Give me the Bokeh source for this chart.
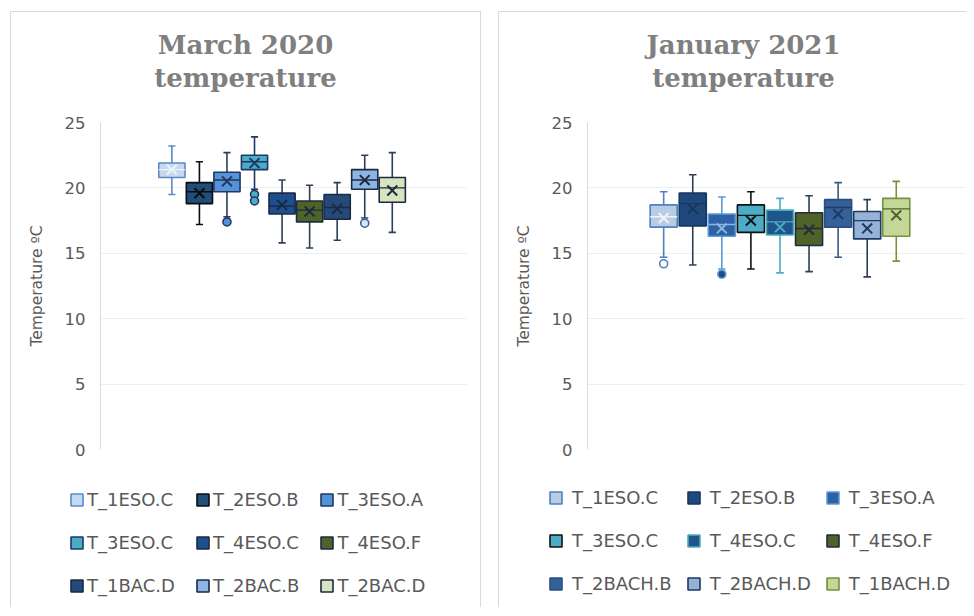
from bokeh.plotting import figure
from bokeh.models import (ColumnDataSource, FixedTicker, Legend, LegendItem,
                          Label, Range1d)
from bokeh.layouts import row, column
from bokeh.embed import file_html
from bokeh.resources import INLINE

# ---------------- data: March 2020 ----------------
m_title = ["March 2020", "temperature"]
m_names = ["T_1ESO.C", "T_2ESO.B", "T_3ESO.A", "T_3ESO.C", "T_4ESO.C",
           "T_4ESO.F", "T_1BAC.D", "T_2BAC.B", "T_2BAC.D"]
m_wlo = [19.5, 17.2, 17.8, 19.9, 15.8, 15.4, 16.0, 17.7, 16.6]
m_q1 = [20.8, 18.8, 19.7, 21.4, 18.0, 17.4, 17.6, 19.9, 18.9]
m_med = [21.4, 19.7, 20.6, 22.0, 18.6, 18.3, 18.5, 20.6, 20.0]
m_q3 = [21.9, 20.4, 21.2, 22.5, 19.6, 19.0, 19.5, 21.4, 20.8]
m_whi = [23.2, 22.0, 22.7, 23.9, 20.6, 20.2, 20.4, 22.5, 22.7]
m_mean = [21.4, 19.6, 20.5, 21.9, 18.7, 18.2, 18.4, 20.6, 19.8]
m_outliers = {"T_3ESO.A": [17.4], "T_3ESO.C": [19.5, 19.0], "T_2BAC.B": [17.3]}

# ---------------- data: January 2021 ----------------
j_title = ["January 2021", "temperature"]
j_names = ["T_1ESO.C", "T_2ESO.B", "T_3ESO.A", "T_3ESO.C", "T_4ESO.C",
           "T_4ESO.F", "T_2BACH.B", "T_2BACH.D", "T_1BACH.D"]
j_wlo = [14.7, 14.1, 13.8, 13.8, 13.5, 13.6, 14.7, 13.2, 14.4]
j_q1 = [17.0, 17.1, 16.3, 16.6, 16.4, 15.6, 17.0, 16.1, 16.3]
j_med = [17.8, 18.8, 17.2, 17.9, 17.4, 16.9, 18.5, 17.5, 18.4]
j_q3 = [18.7, 19.6, 18.0, 18.7, 18.3, 18.1, 19.1, 18.2, 19.2]
j_whi = [19.7, 21.0, 19.3, 19.7, 19.2, 19.4, 20.4, 19.1, 20.5]
j_mean = [17.7, 18.4, 16.9, 17.5, 17.0, 16.8, 18.0, 16.9, 17.9]
j_outliers = {"T_1ESO.C": [14.2], "T_3ESO.A": [13.4]}

y_ticks = [0, 5, 10, 15, 20, 25]

# ---------------- styles ----------------
m_fill = ["#c6d9f0", "#1f4e79", "#5592d8", "#4bacc6", "#1f4e8c",
          "#4f6228", "#27497a", "#8db4e2", "#d8e4bc"]
m_line = ["#5b8bc7", "#0d0d0d", "#1f3864", "#1f3864", "#1a2b45",
          "#1a2b45", "#1a2b45", "#1a2b45", "#1a2b45"]
m_whisk = ["#5b8bc7", "#0d0d0d", "#2d3e55", "#1f3864", "#2d3e55",
           "#2d3e55", "#2d3e55", "#2d3e55", "#2d3e55"]
m_inner = ["#eef3fa", "#0d0d0d", "#1f3864", "#1f3864", "#1a2b45",
           "#1a2b45", "#1a2b45", "#1a2b45", "#1a2b45"]
m_ofill = {"T_3ESO.A": "#5592d8", "T_3ESO.C": "#4bacc6", "T_2BAC.B": "#dce6f2"}
m_oline = {"T_3ESO.A": "#1f3864", "T_3ESO.C": "#1f3864", "T_2BAC.B": "#2f62a5"}

j_fill = ["#b8cce4", "#1f497d", "#2f62a5", "#4bacc6", "#1f5588",
          "#4f6228", "#34619a", "#95b3d7", "#c4d79b"]
j_line = ["#4f81bd", "#17375e", "#5b9bd5", "#111111", "#4bacc6",
          "#1f2d3d", "#2a4f7f", "#1f3864", "#76923c"]
j_whisk = ["#4f81bd", "#2d3e55", "#5b9bd5", "#111111", "#4bacc6",
           "#2d3e55", "#3a5a80", "#2d3e55", "#76923c"]
j_inner = ["#eef3f9", "#17375e", "#8db4e2", "#111111", "#4bacc6",
           "#1f2d3d", "#1f3864", "#1f3864", "#4f6228"]
j_ofill = {"T_1ESO.C": "#ffffff", "T_3ESO.A": "#1f4e8c"}
j_oline = {"T_1ESO.C": "#4f81bd", "T_3ESO.A": "#5b9bd5"}

SANS = "DejaVu Sans"
GRAY = "#595959"
BORDER = "1px solid #d9d9d9"


def no_align(fig):
    if "frame_align" in fig.properties():
        fig.frame_align = False


def strip(width, height, mleft, styles):
    s = figure(width=width, height=height, output_backend="svg",
               toolbar_location=None, x_range=Range1d(-100, -99),
               y_range=Range1d(-100, -99), x_axis_location=None,
               y_axis_location=None, min_border_left=0, min_border_right=0,
               min_border_top=0, min_border_bottom=0)
    s.margin = (0, 0, 0, mleft)
    s.styles = styles
    s.outline_line_color = None
    s.grid.visible = False
    no_align(s)
    return s


def make_panel(title, names, wlo, q1, med, q3, whi, mean, outliers,
               fill, line, whisk, inner, ofill, oline,
               width, mleft, x_range, frame_left, frame_right,
               bw, title_x, leg_loc, standoff, spacing, label_h, right_border):
    n = len(names)
    xs = [i + 1 for i in range(n)]
    cw = 0.13
    src = ColumnDataSource(dict(
        x=xs, wlo=wlo, q1=q1, med=med, q3=q3, whi=whi, mean=mean,
        xl=[x - bw / 2 for x in xs], xr=[x + bw / 2 for x in xs],
        cl=[x - cw for x in xs], cr=[x + cw for x in xs],
        fill=fill, line=line, whisk=whisk, inner=inner, name=names))

    side = {"border-left": BORDER}
    if right_border:
        side["border-right"] = BORDER
    top_styles = dict(side, **{"border-top": BORDER})

    # ---- title strip ----
    t = strip(width, 100, mleft, top_styles)
    t.margin = (11, 0, 0, mleft)
    for txt, yy in zip(title, (68, 35)):
        t.add_layout(Label(x=title_x, y=yy, x_units="screen", y_units="screen",
                           text=txt, text_align="center",
                           text_baseline="alphabetic",
                           text_font="DejaVu Serif", text_font_style="bold",
                           text_font_size="26px", text_color="#7f7f7f"))

    # ---- chart ----
    p = figure(width=width, height=349, output_backend="svg",
               toolbar_location=None, x_range=Range1d(*x_range),
               y_range=Range1d(0, 25), min_border_left=frame_left,
               min_border_right=frame_right, min_border_top=11,
               min_border_bottom=11)
    p.margin = (0, 0, 0, mleft)
    p.styles = dict(side)
    no_align(p)
    p.outline_line_color = None
    p.xaxis.visible = False
    p.xgrid.visible = False
    p.ygrid.grid_line_color = "#efefef"
    p.ygrid.grid_line_width = 1
    p.yaxis.ticker = FixedTicker(ticks=y_ticks)
    p.yaxis.axis_line_color = "#d9d9d9"
    p.yaxis.major_tick_line_color = None
    p.yaxis.minor_tick_line_color = None
    p.yaxis.major_tick_out = 0
    p.yaxis.major_tick_in = 0
    p.yaxis.minor_tick_out = 0
    p.yaxis.major_label_standoff = 15
    p.yaxis.major_label_text_font = SANS
    p.yaxis.major_label_text_font_size = "16.5px"
    p.yaxis.major_label_text_color = GRAY
    p.yaxis.axis_label = "Temperature ºC"
    p.yaxis.axis_label_text_font = SANS
    p.yaxis.axis_label_text_font_size = "15.5px"
    p.yaxis.axis_label_text_font_style = "normal"
    p.yaxis.axis_label_text_color = GRAY
    p.yaxis.axis_label_standoff = 16

    for a, b in (("wlo", "q1"), ("q3", "whi")):
        p.segment(x0="x", y0=a, x1="x", y1=b, source=src,
                  line_color="whisk", line_width=1.6)
    for c in ("wlo", "whi"):
        p.segment(x0="cl", y0=c, x1="cr", y1=c, source=src,
                  line_color="whisk", line_width=1.6)
    p.vbar(x="x", width=bw, top="q3", bottom="q1", source=src,
           fill_color="fill", line_color="line", line_width=1.6)
    p.segment(x0="xl", y0="med", x1="xr", y1="med", source=src,
              line_color="inner", line_width=1.4)
    p.scatter(x="x", y="mean", source=src, marker="x", size=14,
              line_color="inner", line_width=2)
    ox, oy, of, ol = [], [], [], []
    for i, nm in enumerate(names):
        for v in outliers.get(nm, []):
            ox.append(xs[i]); oy.append(v)
            of.append(ofill[nm]); ol.append(oline[nm])
    osrc = ColumnDataSource(dict(x=ox, y=oy, f=of, l=ol))
    p.scatter(x="x", y="y", source=osrc, marker="circle", size=8,
              fill_color="f", line_color="l", line_width=1.6)

    # ---- legend strip ----
    lg = strip(width, 147, mleft, dict(side))
    keys = lg.vbar(x="x", width=bw, top="q3", bottom="q1", source=src,
                   fill_color="fill", line_color="line", line_width=1.6)
    items = [LegendItem(label=nm, renderers=[keys], index=i)
             for i, nm in enumerate(names)]
    leg = Legend(items=items, ncols=3, orientation="horizontal",
                 location=leg_loc, glyph_width=15, glyph_height=15,
                 label_standoff=standoff, spacing=spacing,
                 label_height=label_h, padding=0, margin=0,
                 border_line_color=None, background_fill_alpha=0,
                 label_text_font=SANS, label_text_font_size="18px",
                 label_text_color=GRAY)
    lg.add_layout(leg, "center")
    return column(t, p, lg, spacing=0)


c1 = make_panel(m_title, m_names, m_wlo, m_q1, m_med, m_q3,
                m_whi, m_mean, m_outliers, m_fill, m_line, m_whisk, m_inner,
                m_ofill, m_oline, width=471, mleft=10,
                x_range=(-1.59, 11.73), frame_left=89, frame_right=15,
                bw=0.95, title_x=234, leg_loc=(58, 10), standoff=3,
                spacing=20, label_h=23, right_border=True)
c2 = make_panel(j_title, j_names, j_wlo, j_q1, j_med,
                j_q3, j_whi, j_mean, j_outliers, j_fill, j_line, j_whisk,
                j_inner, j_ofill, j_oline, width=468, mleft=17,
                x_range=(-1.62, 11.45), frame_left=88, frame_right=0,
                bw=0.93, title_x=244, leg_loc=(49, 9), standoff=9,
                spacing=14, label_h=29, right_border=False)

layout = row(c1, c2, spacing=0)
open("out.html", "w").write(file_html(layout, INLINE))
